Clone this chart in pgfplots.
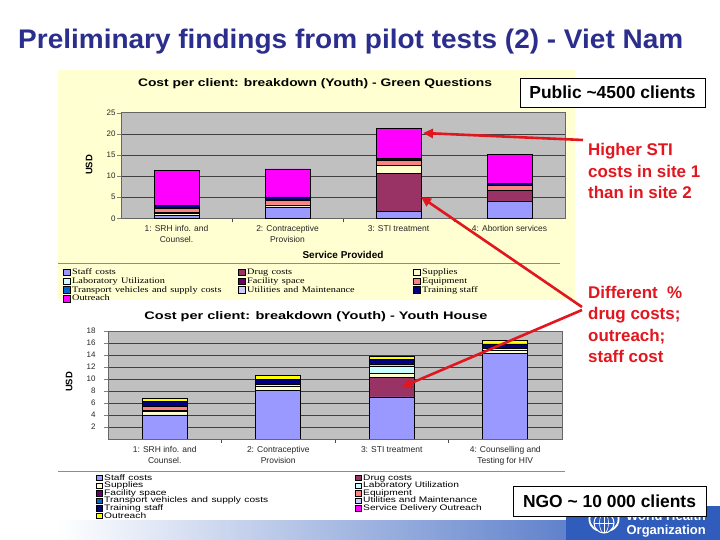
\documentclass[border=0pt]{standalone}
\usepackage{pgfplots}
\usepackage{pgfplotstable}
\pgfplotsset{compat=1.18}
\usepackage{graphicx}
\usepackage{fontspec}
\setmainfont{Liberation Sans}
\newfontfamily\legserif{Liberation Serif}
\usetikzlibrary{arrows.meta}
\definecolor{cStaff}{HTML}{9999FF}
\definecolor{cDrug}{HTML}{993366}
\definecolor{cSupp}{HTML}{FFFFCC}
\definecolor{cLab}{HTML}{CCFFFF}
\definecolor{cFac}{HTML}{660066}
\definecolor{cEquip}{HTML}{FF8080}
\definecolor{cTrans}{HTML}{0066CC}
\definecolor{cUtil}{HTML}{CCCCFF}
\definecolor{cTrain}{HTML}{000080}
\definecolor{cMag}{HTML}{FF00FF}
\definecolor{cYel}{HTML}{FFFF00}
\definecolor{plotgray}{HTML}{C0C0C0}
\definecolor{panel}{HTML}{FFFFD2}
\definecolor{titleblue}{RGB}{43,46,140}
\definecolor{annred}{RGB}{226,22,30}
\definecolor{whoblue}{RGB}{48,92,188}
\newcommand\lt[1]{\scalebox{1.21}[1]{#1}}
\newcommand\lb[1]{\scalebox{1.28}[1]{#1}}
\pgfplotsset{
  sqleg/.style={legend image code/.code={\draw[##1,line width=0.5bp] (0bp,-3.2bp) rectangle (6.5bp,3.3bp);}},
  sqlegb/.style={legend image code/.code={\draw[##1,line width=0.5bp] (0bp,-2.6bp) rectangle (5.5bp,2.9bp);}},
  excel/.style={
    scale only axis, ybar stacked, bar width=45bp,
    xmin=-0.5, xmax=3.5, xtick={0,1,2,3},
    major x tick style={draw=none},
    minor x tick num=1, minor x tick style={draw=black!70, line width=0.5bp},
    minor tick length=4bp, major tick length=4bp,
    tick align=outside, tick pos=left,
    /pgf/number format/assume math mode=true,
    ymajorgrids, major grid style={black!75, line width=0.6bp},
    axis line style={black!60, line width=0.6bp},
    axis background/.style={fill=plotgray},
    xticklabel style={align=center, font=\fontsize{8.5}{11}\selectfont, text=black!85},
    yticklabel style={font=\fontsize{8}{9}\selectfont, text=black!85},
    legend cell align=left,
    every axis plot/.append style={draw=black, line width=0.7bp},
  },
}
\pgfplotstableread{
x staff drug supp lab fac equip trans util train outr
0 0.75 0    0.45 0.15 0 0.95 0 0 0.70 8.25
1 2.70 0    0.45 0    0 1.05 0 0 0.85 6.65
2 1.60 9.05 1.80 0    0 1.15 0 0 0.60 7.00
3 4.00 2.55 0    0    0 1.15 0 0 0.60 6.90
}\topdata
\pgfplotstableread{
x staff drug supp lab fac equip trans util train sdo outr
0 4.0  0   0.55 0.20 0 0.75 0 0   0.70 0 0.55
1 8.1  0   0.60 0.40 0 0    0 0   0.85 0 0.60
2 7.0  3.3 0.60 1.20 0 0    0 0.4 0.70 0 0.60
3 14.2 0   0.65 0.25 0 0    0 0   0.75 0 0.55
}\botdata
\begin{document}
\begin{tikzpicture}[x=1bp,y=1bp]
\path[use as bounding box] (0,0) rectangle (720,540);
\fill[white] (0,0) rectangle (720,540);
\fill[panel] (58,240) rectangle (575,470);
\draw[black!45, line width=0.7bp] (58,277) -- (560,277);
\draw[black!45, line width=0.7bp] (58,69) -- (565,69);
\shade[left color=white, right color=whoblue] (58,0) rectangle (720,19);
\fill[whoblue] (566,0) rectangle (720,34);
% WHO emblem (simplified)
\begin{scope}[white]
\draw[line width=1bp] (604,17) circle (10);
\draw[line width=0.6bp] (604,17) ellipse (4.5 and 10);
\draw[line width=0.6bp] (594,17) -- (614,17) (604,7) -- (604,27);
\draw[line width=1.8bp] (591,27) arc (150:250:12);
\draw[line width=1.8bp] (617,27) arc (30:-70:12);
\end{scope}
\node[anchor=base east, inner sep=0, text=white, font=\bfseries\fontsize{13}{14}\selectfont] at (706,19) {World Health};
\node[anchor=base east, inner sep=0, text=white, font=\bfseries\fontsize{13}{14}\selectfont] at (706,5) {Organization};
% main title
\node[anchor=base west, inner sep=0, text=titleblue, font=\bfseries\fontsize{27}{30}\selectfont] at (18,491) {\resizebox{665bp}{\height}{Preliminary findings from pilot tests (2) - Viet Nam}};

% ---------------- top chart ----------------
\begin{axis}[excel,
  at={(121bp,321.7bp)}, anchor=south west,
  width=444bp, height=105.6bp,
  ymin=0, ymax=25, ytick={0,5,10,15,20,25},
  yticklabel style={xshift=2bp},
  xticklabels={{1: SRH info. and\\Counsel.},{2: Contraceptive\\Provision},{3: STI treatment},{4: Abortion services}},
  title={\resizebox{354bp}{\height}{Cost per client: breakdown (Youth) - Green Questions}},
  every axis title/.style={at={(axis description cs:0.437,1.272)}, anchor=center, font=\bfseries\fontsize{11}{12}\selectfont},
  xlabel={Service Provided},
  every axis x label/.style={at={(axis description cs:0.5,-0.3475)}, anchor=center, font=\bfseries\fontsize{10}{11}\selectfont},
  ylabel={USD},
  every axis y label/.style={at={(axis description cs:-0.072,0.505)}, anchor=center, rotate=90, font=\bfseries\fontsize{9.5}{10}\selectfont},
  legend columns=3,
  legend style={at={(axis description cs:-0.1306,-0.470)}, anchor=north west, draw=none, fill=none,
    font=\legserif\fontsize{8.5}{9}\selectfont, inner sep=0pt, row sep=0pt,
    nodes={inner xsep=2bp, inner ysep=0.2bp, text height=6.3bp, text depth=2.0bp},
    /tikz/column 2/.style={nodes={text width=164bp}},
    /tikz/column 4/.style={nodes={text width=164bp}}},
]
\addplot[fill=cStaff, sqleg] table[x=x,y=staff]{\topdata}; \addlegendentry{\lt{Staff costs}}
\addplot[fill=cDrug, sqleg] table[x=x,y=drug]{\topdata}; \addlegendentry{\lt{Drug costs}}
\addplot[fill=cSupp, sqleg] table[x=x,y=supp]{\topdata}; \addlegendentry{\lt{Supplies}}
\addplot[fill=cLab, sqleg] table[x=x,y=lab]{\topdata}; \addlegendentry{\lt{Laboratory Utilization}}
\addplot[fill=cFac, sqleg] table[x=x,y=fac]{\topdata}; \addlegendentry{\lt{Facility space}}
\addplot[fill=cEquip, sqleg] table[x=x,y=equip]{\topdata}; \addlegendentry{\lt{Equipment}}
\addplot[fill=cTrans, sqleg] table[x=x,y=trans]{\topdata}; \addlegendentry{\lt{Transport vehicles and supply costs}}
\addplot[fill=cUtil, sqleg] table[x=x,y=util]{\topdata}; \addlegendentry{\lt{Utilities and Maintenance}}
\addplot[fill=cTrain, sqleg] table[x=x,y=train]{\topdata}; \addlegendentry{\lt{Training staff}}
\addplot[fill=cMag, sqleg] table[x=x,y=outr]{\topdata}; \addlegendentry{\lt{Outreach}}
\end{axis}

% ---------------- bottom chart ----------------
\begin{axis}[excel,
  at={(108bp,101bp)}, anchor=south west,
  width=454bp, height=108bp,
  ymin=0, ymax=18, ytick={2,4,...,18},
  yticklabel style={xshift=-5bp},
  xticklabels={{1: SRH info. and\\Counsel.},{2: Contraceptive\\Provision},{3: STI treatment},{4: Counselling and\\Testing for HIV}},
  title={\resizebox{343bp}{\height}{Cost per client: breakdown (Youth) - Youth House}},
  every axis title/.style={at={(axis description cs:0.458,1.13)}, anchor=center, font=\bfseries\fontsize{11}{12}\selectfont},
  ylabel={USD},
  every axis y label/.style={at={(axis description cs:-0.0859,0.528)}, anchor=center, rotate=90, font=\bfseries\fontsize{9.5}{10}\selectfont},
  legend columns=2,
  legend style={at={(axis description cs:-0.0264,-0.325)}, anchor=north west, draw=none, fill=none,
    font=\fontsize{8}{8}\selectfont, inner sep=0pt, row sep=0pt,
    nodes={inner xsep=2bp, inner ysep=0.2bp, text height=5.6bp, text depth=1.6bp},
    /tikz/column 2/.style={nodes={text width=249bp}}},
]
\addplot[fill=cStaff, sqlegb] table[x=x,y=staff]{\botdata}; \addlegendentry{\lb{Staff costs}}
\addplot[fill=cDrug, sqlegb] table[x=x,y=drug]{\botdata}; \addlegendentry{\lb{Drug costs}}
\addplot[fill=cSupp, sqlegb] table[x=x,y=supp]{\botdata}; \addlegendentry{\lb{Supplies}}
\addplot[fill=cLab, sqlegb] table[x=x,y=lab]{\botdata}; \addlegendentry{\lb{Laboratory Utilization}}
\addplot[fill=cFac, sqlegb] table[x=x,y=fac]{\botdata}; \addlegendentry{\lb{Facility space}}
\addplot[fill=cEquip, sqlegb] table[x=x,y=equip]{\botdata}; \addlegendentry{\lb{Equipment}}
\addplot[fill=cTrans, sqlegb] table[x=x,y=trans]{\botdata}; \addlegendentry{\lb{Transport vehicles and supply costs}}
\addplot[fill=cUtil, sqlegb] table[x=x,y=util]{\botdata}; \addlegendentry{\lb{Utilities and Maintenance}}
\addplot[fill=cTrain, sqlegb] table[x=x,y=train]{\botdata}; \addlegendentry{\lb{Training staff}}
\addplot[fill=cMag, sqlegb] table[x=x,y=sdo]{\botdata}; \addlegendentry{\lb{Service Delivery Outreach}}
\addplot[fill=cYel, sqlegb] table[x=x,y=outr]{\botdata}; \addlegendentry{\lb{Outreach}}
\end{axis}

% ---------------- annotations ----------------
\node[draw=black, fill=white, line width=0.8bp, minimum width=185bp, minimum height=29bp, inner sep=0, font=\bfseries\fontsize{17.5}{20}\selectfont] at (612.5,447.5) {Public \textasciitilde4500 clients};
\begin{scope}[every node/.style={anchor=base west, inner sep=0, text=annred, font=\bfseries\fontsize{17}{21}\selectfont}]
\node at (588,384) {Higher STI};
\node at (588,362) {costs in site 1};
\node at (588,341) {than in site 2};
\node at (588,241) {Different\ \ \%};
\node at (588,220) {drug costs;};
\node at (588,198) {outreach;};
\node at (588,177) {staff cost};
\end{scope}
\begin{scope}[annred, line width=2.6bp, -{Triangle[length=10bp,width=9bp]}]
\draw (583,400) -- (423,407);
\draw (582,233) -- (421,343);
\draw (582,230) -- (402,153);
\end{scope}
\node[draw=black, fill=white, line width=0.8bp, minimum width=193bp, minimum height=30bp, inner sep=0, font=\bfseries\fontsize{17.5}{20}\selectfont] at (609.5,39) {NGO \textasciitilde\ 10 000 clients};
\end{tikzpicture}
\end{document}
